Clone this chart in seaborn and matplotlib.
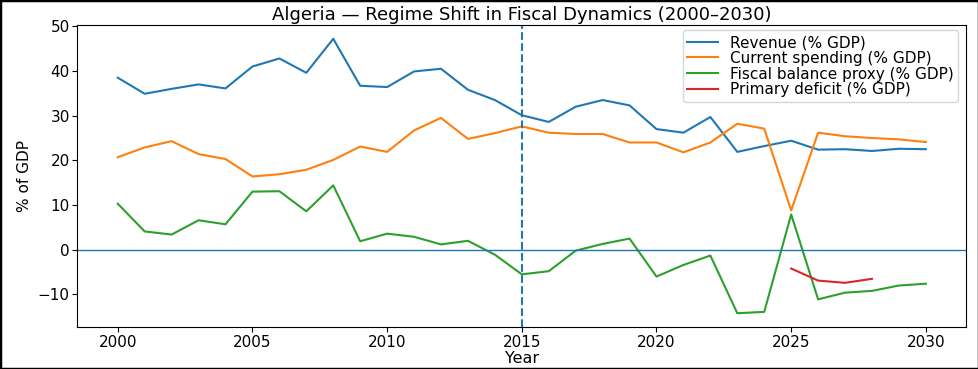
import numpy as np
import pandas as pd
import seaborn as sns
import matplotlib.pyplot as plt
from matplotlib.patches import Rectangle

years = list(range(2000, 2031))

revenue = [38.5, 34.9, 36.0, 37.0, 36.1, 41.0, 42.8, 39.6, 47.2, 36.7,
           36.4, 39.9, 40.5, 35.8, 33.5, 30.1, 28.6, 32.0, 33.5, 32.3,
           27.0, 26.2, 29.7, 21.9, 23.2, 24.4, 22.4, 22.5, 22.1, 22.6, 22.5]

spending = [20.7, 22.9, 24.3, 21.4, 20.3, 16.4, 16.9, 17.9, 20.1, 23.1,
            21.9, 26.7, 29.5, 24.8, 26.1, 27.6, 26.2, 25.9, 25.9, 24.0,
            24.0, 21.8, 24.0, 28.2, 27.1, 8.8, 26.2, 25.4, 25.0, 24.7, 24.1]

balance = [10.3, 4.1, 3.4, 6.6, 5.7, 13.0, 13.1, 8.6, 14.4, 1.9,
           3.6, 2.9, 1.2, 2.0, -1.1, -5.5, -4.8, -0.2, 1.3, 2.5,
           -6.0, -3.4, -1.3, -14.2, -13.9, 7.9, -11.1, -9.6, -9.2, -8.0, -7.6]

deficit_years = [2025, 2026, 2027, 2028]
primary_deficit = [-4.2, -6.9, -7.4, -6.5]

series = {
    "Revenue (% GDP)": (years, revenue),
    "Current spending (% GDP)": (years, spending),
    "Fiscal balance proxy (% GDP)": (years, balance),
    "Primary deficit (% GDP)": (deficit_years, primary_deficit),
}

fig, ax = plt.subplots(figsize=(9.79, 3.69), dpi=100)
palette = sns.color_palette("tab10")

for i, (name, (xs, ys)) in enumerate(series.items()):
    df = pd.DataFrame({"Year": xs, "value": ys})
    sns.lineplot(data=df, x="Year", y="value", ax=ax, label=name,
                 color=palette[i], linewidth=1.5)

ax.axhline(0, color=palette[0], linewidth=1)
ax.axvline(2015, color=palette[0], linestyle="--", linewidth=1.5)

ax.set_title("Algeria — Regime Shift in Fiscal Dynamics (2000–2030)", fontsize=13, pad=4)
ax.set_xlabel("Year", fontsize=11.5, labelpad=1)
ax.set_ylabel("% of GDP", fontsize=11, labelpad=4)
ax.tick_params(labelsize=11, pad=2)
ax.legend(loc="upper right", fontsize=11, labelspacing=0.05, borderpad=0.3,
          borderaxespad=0.35, bbox_to_anchor=(0.997, 1.0))

fig.subplots_adjust(left=0.079, right=0.987, top=0.932, bottom=0.114)
fig.patches.append(Rectangle((0, 0), 1, 1, transform=fig.transFigure,
                             fill=False, edgecolor="black", linewidth=2.5))

fig.savefig("out.png", dpi=100)
